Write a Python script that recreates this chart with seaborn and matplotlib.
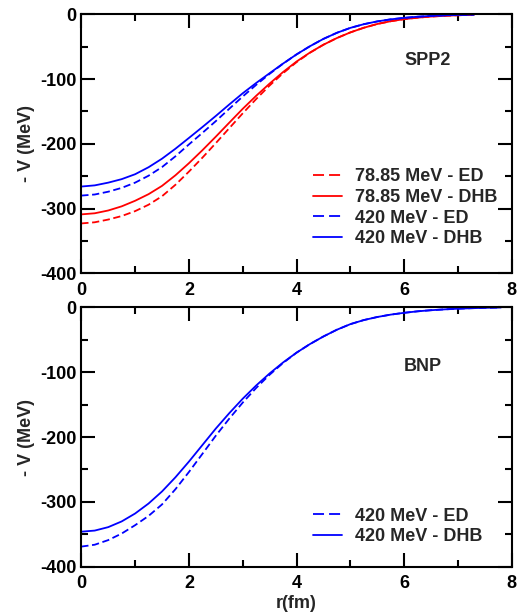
import numpy as np
import pandas as pd
import matplotlib
matplotlib.use("Agg")
import matplotlib.pyplot as plt
import seaborn as sns

# ---- data ----
r_top = [0, 0.25, 0.5, 0.75, 1, 1.25, 1.5, 1.75, 2, 2.25, 2.5, 2.75, 3, 3.25, 3.5, 3.75,
         4, 4.25, 4.5, 4.75, 5, 5.25, 5.5, 5.75, 6, 6.25, 6.5, 6.75, 7, 7.3]
v_7885_ed = [-323, -321.2, -317, -311.6, -304, -294.1, -281, -263.3, -243, -221.5, -199, -175.9,
             -153, -130.9, -110, -91, -74, -59.4, -47, -36.7, -28, -20.8, -15, -10.7, -7.5, -5.2,
             -3.5, -2.3, -1.5, -0.5]
v_7885_dhb = [-309, -307.3, -303, -296.6, -288, -277.8, -265, -248.6, -230, -210, -189, -167.4,
              -146, -125.9, -107, -89.2, -73, -59.1, -47, -36.7, -28, -20.8, -15, -10.7, -7.5, -5.2,
              -3.5, -2.3, -1.5, -0.5]
v_420_ed = [-280, -278.3, -274, -268.1, -260, -249.3, -236, -219.3, -201, -183.2, -165, -145.9,
            -127, -109, -92, -76.3, -62, -49.3, -38, -28.6, -21, -15.3, -11, -7.8, -5.5, -3.75,
            -2.5, -1.6, -1, -0.5]
v_420_dhb = [-266, -264.2, -260, -254.6, -247, -236.2, -223, -207.6, -191, -174.2, -157, -139.3,
             -122, -106.1, -91, -76.1, -62, -49.3, -38, -28.6, -21, -15.3, -11, -7.8, -5.5, -3.75,
             -2.5, -1.6, -1, -0.5]

r_bot = [0, 0.25, 0.5, 0.75, 1, 1.25, 1.5, 1.75, 2, 2.25, 2.5, 2.75, 3, 3.25, 3.5, 3.75,
         4, 4.25, 4.5, 4.75, 5, 5.25, 5.5, 5.75, 6, 6.25, 6.5, 6.75, 7, 7.25, 7.5, 7.8]
v_bnp_ed = [-369, -366.1, -359, -348.9, -336, -321.7, -304, -280.5, -254, -226.1, -198, -171.7,
            -147, -124.4, -104, -85.9, -70, -56.7, -45, -34.6, -26, -19.7, -15, -11.3, -8.5, -6.2,
            -4.5, -3.2, -2.2, -1.4, -0.8, -0.3]
v_bnp_dhb = [-346, -344.3, -339, -330.2, -318, -302.6, -284, -262.1, -238, -212.5, -187, -163.3,
             -141, -120.6, -102, -85.1, -70, -56.7, -45, -34.6, -26, -19.7, -15, -11.3, -8.5, -6.2,
             -4.5, -3.2, -2.2, -1.4, -0.8, -0.3]

top_series = [
    ("78.85 MeV - ED", v_7885_ed, "#ff0000", "dash"),
    ("78.85 MeV - DHB", v_7885_dhb, "#ff0000", "solid"),
    ("420 MeV - ED", v_420_ed, "#0000ff", "dash"),
    ("420 MeV - DHB", v_420_dhb, "#0000ff", "solid"),
]
bot_series = [
    ("420 MeV - ED", v_bnp_ed, "#0000ff", "dash"),
    ("420 MeV - DHB", v_bnp_dhb, "#0000ff", "solid"),
]
x_ticks = [0, 2, 4, 6, 8]
y_ticks = [-400, -300, -200, -100, 0]

sns.set_theme(style="ticks")
plt.rcParams["font.family"] = ["Liberation Sans", "DejaVu Sans"]
plt.rcParams["font.weight"] = "bold"
plt.rcParams["axes.labelweight"] = "bold"
plt.rcParams["axes.unicode_minus"] = False

W, H = 531, 612
fig = plt.figure(figsize=(W / 100, H / 100), dpi=100)
L, R = 81.3, 511.7
ax1 = fig.add_axes([L / W, 1 - 273.3 / H, (R - L) / W, (273.3 - 14.3) / H])
ax2 = fig.add_axes([L / W, 1 - 566.7 / H, (R - L) / W, (566.7 - 307.3) / H])


def draw(ax, rr, series):
    for label, vals, color, style in series:
        df = pd.DataFrame({"r": rr, "V": vals})
        ls = (0, (4, 2)) if style == "dash" else "-"
        sns.lineplot(data=df, x="r", y="V", ax=ax, color=color, linestyle=ls,
                     linewidth=1.3, label=label, sort=True, estimator=None)


draw(ax1, r_top, top_series)
draw(ax2, r_bot, bot_series)

for ax in (ax1, ax2):
    ax.set_xlim(0, 8)
    ax.set_ylim(-400, 0)
    ax.set_xticks(x_ticks)
    ax.set_yticks(y_ticks)
    ax.set_xticks(np.arange(1, 8, 2), minor=True)
    ax.set_yticks(np.arange(-350, 0, 100), minor=True)
    ax.tick_params(which="both", direction="in", top=True, right=True, width=1.5, colors="black")
    ax.tick_params(which="major", length=10)
    ax.tick_params(which="minor", length=5)
    ax.tick_params(axis="x", which="major", pad=6, labelsize=13)
    ax.tick_params(axis="y", which="major", pad=3.5, labelsize=13)
    for lab in ax.get_xticklabels() + ax.get_yticklabels():
        lab.set_fontweight("bold")
    for s in ax.spines.values():
        s.set_linewidth(1.5)
        s.set_color("black")
    ax.set_ylabel("- V (MeV)", fontsize=13, fontweight="bold", labelpad=4)
    ax.grid(False)

ax1.set_xlabel("")
ax2.set_xlabel("r(fm)", fontsize=13, fontweight="bold", labelpad=2)

ax1.text(6.43, -72, "SPP2", fontsize=13, fontweight="bold", ha="center", va="center")
ax2.text(6.35, -92, "BNP", fontsize=13, fontweight="bold", ha="center", va="center")

leg_kw = dict(frameon=False, loc="upper left", borderpad=0, borderaxespad=0,
              handlelength=1.6, handletextpad=0.75, labelspacing=0.2,
              prop={"size": 13, "weight": "bold"})
for ax, y0 in ((ax1, 0.405), (ax2, 0.228)):
    leg = ax.legend(bbox_to_anchor=(0.538, y0), **leg_kw)
    for ln in leg.get_lines():
        if ln.get_linestyle() != "-":
            ln.set_linestyle((0, (6.1, 2.8)))

fig.savefig("out.png", dpi=100)
